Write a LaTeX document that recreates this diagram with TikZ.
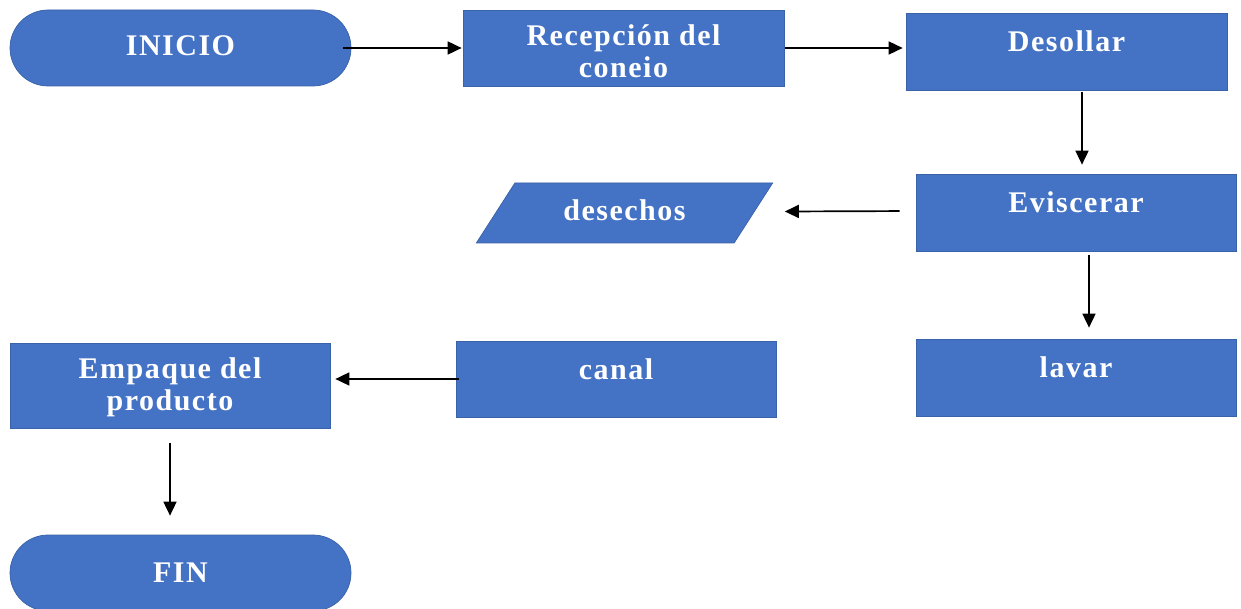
\documentclass[tikz,border=0pt]{standalone}
\usepackage{fontspec}
\setmainfont{Liberation Serif}[LetterSpace=5]
\usetikzlibrary{shapes.misc,shapes.geometric,arrows.meta}
\definecolor{boxblue}{HTML}{4472C4}
\definecolor{edgeblue}{HTML}{3A62A8}
\newcommand\liftt[2][10pt]{\raisebox{#1}[\height][\depth]{#2}}
\newcommand\twolines[2]{\begin{tabular}{@{}c@{}}#1\\#2\end{tabular}}
\tikzset{
  base/.style={fill=boxblue, draw=edgeblue, line width=0.7pt, text=white,
    font=\bfseries\fontsize{30}{32}\selectfont, align=center, inner sep=0pt},
  procbox/.style={base, rectangle, minimum width=#1, minimum height=76pt},
  procbox/.default=320pt,
  term/.style={base, rounded rectangle, minimum width=341pt, minimum height=76pt},
  iobox/.style={base, trapezium, trapezium left angle=44.5, trapezium right angle=135.5,
    trapezium stretches=true, minimum width=297pt, minimum height=60pt},
  arr/.style={-{Triangle[length=14pt,width=13pt]}, line width=1.7pt, black}
}
\begin{document}
\begin{tikzpicture}[x=1pt,y=-1pt]
\useasboundingbox (0,0) rectangle (1241,609);
\fill[white] (0,0) rectangle (1241,609);
\node[term] (ini) at (180.5,48) {\liftt[2pt]{INICIO}};
\node[procbox=321pt] (rec) at (623.5,48) {\liftt[-7pt]{\twolines{Recepción del}{coneio}}};
\node[procbox=321pt, minimum height=77pt] (des) at (1066.5,51.5) {\liftt{Desollar}};
\node[procbox, minimum height=77pt] (evi) at (1076,212.5) {\liftt{Eviscerar}};
\node[iobox] (dsc) at (624.5,213) {\liftt[3pt]{desechos}};
\node[procbox, minimum height=77pt] (lav) at (1076,377.5) {\liftt{lavar}};
\node[procbox] (can) at (616,379) {\liftt{canal}};
\node[procbox, minimum height=85pt] (emp) at (170,385.5) {\liftt[-3pt]{\twolines{Empaque del}{producto}}};
\node[term] (fin) at (180.5,573) {FIN};
\draw[arr, shorten <=-8pt, shorten >=1pt] (ini.east) -- (ini.east -| rec.west);
\draw[arr, shorten <=1pt, shorten >=3pt] (rec.east) -- (rec.east -| des.west);
\draw[arr, shorten <=2pt, shorten >=9pt] ([xshift=15.5pt]des.south) -- ([xshift=15.5pt]des.south |- evi.north);
\draw[arr, shorten <=4pt, shorten >=11pt] ([xshift=13pt]evi.south) -- ([xshift=13pt]evi.south |- lav.north);
\draw[arr, shorten <=16pt, shorten >=0pt] ([yshift=1.5pt]evi.west) -- ([yshift=1.5pt,xshift=31pt]dsc.east);
\draw[arr, shorten <=-3pt, shorten >=5pt] (can.west) -- (can.west -| emp.east);
\draw[arr, shorten <=15pt, shorten >=19pt] (emp.south) -- (emp.south |- fin.north);
\end{tikzpicture}
\end{document}
